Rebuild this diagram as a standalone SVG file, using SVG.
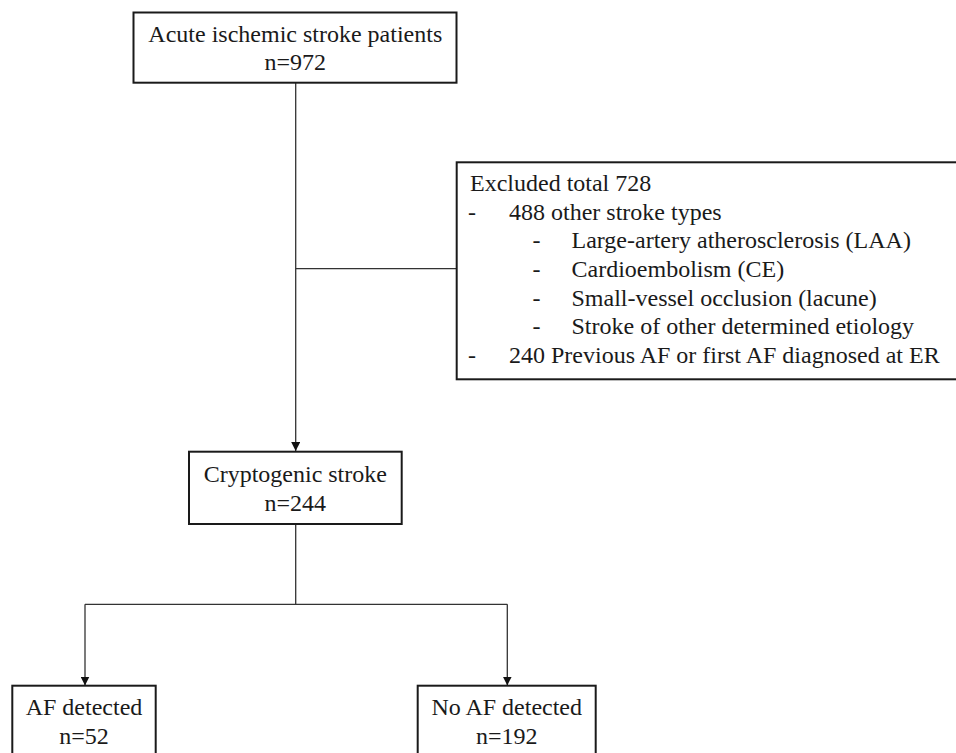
<svg xmlns="http://www.w3.org/2000/svg" width="956" height="753" viewBox="0 0 956 753">
  <style>
    .box { fill: #ffffff; stroke: #1a1a1a; stroke-width: 2; }
    .t { font-family: "Liberation Serif", "Times New Roman", serif; font-size: 24px; fill: #1a1a1a; }
    .c { text-anchor: middle; }
    .line { fill: none; stroke: #333333; stroke-width: 1.3; }
  </style>
  <defs>
    <marker id="arrow" markerUnits="userSpaceOnUse" markerWidth="9" markerHeight="9" refX="9" refY="4.5" orient="auto" viewBox="0 0 9 9">
      <path d="M0,0 L9,4.5 L0,9 Z" fill="#111111"/>
    </marker>
  </defs>
  <rect width="956" height="753" fill="#ffffff"/>

  <g id="connectors">
    <line class="line" x1="295.7" y1="82.7" x2="295.7" y2="451" marker-end="url(#arrow)"/>
    <line class="line" x1="295.7" y1="268.7" x2="456.7" y2="268.7"/>
    <line class="line" x1="295.7" y1="524" x2="295.7" y2="604.3"/>
    <line class="line" x1="85" y1="604.3" x2="507.3" y2="604.3"/>
    <line class="line" x1="85" y1="604.3" x2="85" y2="685.5" marker-end="url(#arrow)"/>
    <line class="line" x1="507.3" y1="604.3" x2="507.3" y2="685.5" marker-end="url(#arrow)"/>
  </g>

  <g id="node-acute">
    <rect class="box" x="133.5" y="12.5" width="323" height="70.2"/>
    <text class="t c" x="295.3" y="41.5">Acute ischemic stroke patients</text>
    <text class="t c" x="295.3" y="70">n=972</text>
  </g>

  <g id="node-excluded">
    <rect class="box" x="456.7" y="162.3" width="510" height="217"/>
    <text class="t" x="470" y="191">Excluded total 728</text>
    <text class="t" x="468" y="219.6">-</text>
    <text class="t" x="509" y="219.6">488 other stroke types</text>
    <text class="t" x="532.5" y="248.2">-</text>
    <text class="t" x="571.5" y="248.2">Large-artery atherosclerosis (LAA)</text>
    <text class="t" x="532.5" y="276.9">-</text>
    <text class="t" x="571.5" y="276.9">Cardioembolism (CE)</text>
    <text class="t" x="532.5" y="305.6">-</text>
    <text class="t" x="571.5" y="305.6">Small-vessel occlusion (lacune)</text>
    <text class="t" x="532.5" y="334.3">-</text>
    <text class="t" x="571.5" y="334.3">Stroke of other determined etiology</text>
    <text class="t" x="468" y="363">-</text>
    <text class="t" x="509" y="363">240 Previous AF or first AF diagnosed at ER</text>
  </g>

  <g id="node-cryptogenic">
    <rect class="box" x="189" y="451.7" width="212.7" height="72.3"/>
    <text class="t c" x="295.3" y="481.7">Cryptogenic stroke</text>
    <text class="t c" x="295.3" y="510.7">n=244</text>
  </g>

  <g id="node-af">
    <rect class="box" x="12.3" y="685.7" width="143.4" height="80"/>
    <text class="t c" x="84" y="715">AF detected</text>
    <text class="t c" x="84" y="744.3">n=52</text>
  </g>

  <g id="node-noaf">
    <rect class="box" x="417.7" y="685.7" width="178" height="80"/>
    <text class="t c" x="506.7" y="715">No AF detected</text>
    <text class="t c" x="506.7" y="744.3">n=192</text>
  </g>
</svg>
